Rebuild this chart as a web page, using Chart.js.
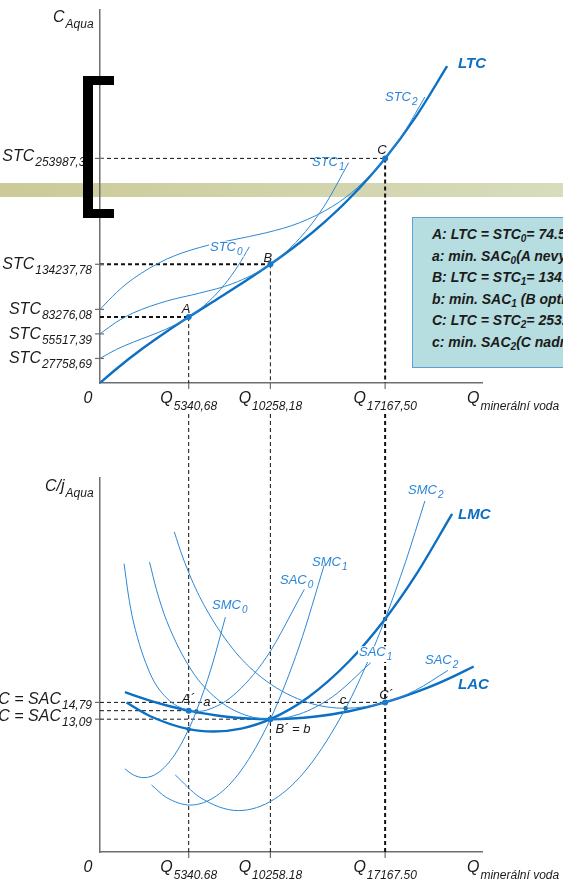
<!DOCTYPE html>
<html lang="cs">
<head>
  <meta charset="UTF-8">
  <title>LTC, STC a LAC, LMC – Aqua</title>
  <script src="https://cdn.jsdelivr.net/npm/chart.js"></script>
  <style>
    html, body { margin: 0; padding: 0; background: #fff; overflow: hidden; }
    .page { position: relative; width: 563px; height: 879px; overflow: hidden; }
    canvas { position: absolute; left: 0; top: 0; }
    .band { position: absolute; left: 0; top: 183px; width: 563px; height: 14px;
            background: linear-gradient(to right, #cbca98, #d7dcbc); }
    .bracket { position: absolute; left: 83px; top: 76px; width: 31px; height: 142px;
               box-sizing: border-box; border: solid #000; border-width: 9px 0 9px 10px; }
    .note { position: absolute; left: 412px; top: 217px; width: 260px; height: 151px;
            box-sizing: border-box; border: 1.5px solid #5d9fd6; background: #b6dde0;
            padding: 6px 0 0 19px; font: italic bold 14px "Liberation Sans", Arial, sans-serif;
            line-height: 21.6px; color: #1b1b1b; white-space: nowrap; }
    .note sub { font-size: 10px; vertical-align: -3px; line-height: 0; }
  </style>
</head>
<body>
<div class="page">
  <div class="band"></div>
  <canvas class="bottom" width="563" height="879"></canvas>
  <canvas class="top" width="563" height="879"></canvas>
  <div class="bracket"></div>
  <div class="note">
    <div>A: LTC = STC<sub>0</sub>= 74.512,48</div>
    <div>a: min. SAC<sub>0</sub>(A nevyužívá kapacitu)</div>
    <div>B: LTC = STC<sub>1</sub>= 134.237,78</div>
    <div>b: min. SAC<sub>1</sub> (B optimální)</div>
    <div>C: LTC = STC<sub>2</sub>= 253.987,30</div>
    <div>c: min. SAC<sub>2</sub>(C nadměrně využívá)</div>
  </div>
</div>

<script>
  // body dotyku (Q)
  const qA = 5340.68, qB = 10258.18, qC = 17167.5;

  // horní graf – celkové náklady
  const stcTicks = [27758.69, 55517.39, 83276.08, 134237.78, 253987.3];
  const stcTickLabels = ['27758,69', '55517,39', '83276,08', '134237,78', '253987,30'];
  const tcPoints = [74512, 134237.78, 253987.3];

  const ltcQ = [0, 1000, 2500, 4000, 5340.68, 7000, 8500, 10258.18, 12000, 13500, 15000, 17167.5, 19000, 20900];
  const ltcVal = [0, 16154, 38102, 57952, 74512, 94262, 112171, 134238, 158335, 181737, 208365, 253987, 300618, 358226];

  const stc0Q = [0, 1000, 2000, 3000, 4000, 5340.68, 6500, 7500, 8300, 8995];
  const stc0Val = [27759, 38080, 46167, 53378, 61070, 74512, 91317, 111392, 132121, 154109];

  const stc1Q = [0, 1000, 2000, 4000, 6000, 8000, 10258.18, 12000, 13500, 14971];
  const stc1Val = [55517, 69029, 79214, 92603, 101691, 112480, 134238, 163186, 199956, 249236];

  const stc2Q = [0, 1000, 2000, 4000, 6000, 8000, 10000, 12000, 14000, 15500, 17167.5, 18400, 19559];
  const stc2Val = [83276, 102451, 117955, 139949, 153260, 161892, 169846, 181126, 199734, 220906, 253987, 286193, 323471];

  // dolní graf – průměrné a mezní náklady
  const acTicks = [14.795, 13.086];
  const acTickLabels = ['14,79', '13,09'];
  const acPoints = [13.952, 13.086, 14.795];

  const lacQ = [1500, 3000, 4200, 5340.68, 7500, 10258.18, 13000, 15000, 17167.5, 19500, 21000, 22500];
  const lacVal = [15.832, 14.972, 14.400, 13.952, 13.358, 13.086, 13.355, 13.891, 14.795, 16.144, 17.217, 18.451];

  const lmcQ = [1600, 3000, 5340.68, 6840, 8500, 10258.18, 12500, 15000, 17167.5, 19000, 21200];
  const lmcVal = [14.778, 13.413, 12.071, 11.830, 12.127, 13.086, 15.272, 18.983, 23.287, 27.714, 33.98];

  const sac0Q = [1450, 1700, 2000, 3000, 4000, 5340.68, 5800, 6500, 8000, 10000, 12300];
  const sac0Val = [28.907, 25.821, 23.083, 17.793, 15.268, 13.952, 13.873, 14.049, 15.476, 19.337, 26.294];

  const smc0Q = [1500, 2000, 2645, 3500, 4500, 5340.68, 5800, 6700, 7550];
  const smc0Val = [8.031, 7.423, 7.140, 7.635, 9.475, 12.071, 13.895, 18.301, 23.470];

  const sac1Q = [2980, 3400, 4000, 5500, 7000, 8500, 10258.18, 12000, 14000, 16300];
  const sac1Val = [29.091, 26.268, 23.151, 18.089, 15.214, 13.663, 13.086, 13.598, 15.366, 18.834];

  const smc1Q = [3100, 4000, 5433, 7000, 8500, 10258.18, 12000, 13500];
  const smc1Val = [6.391, 5.119, 4.348, 5.270, 7.878, 13.086, 20.533, 28.772];

  const sac2Q = [4470, 5000, 6000, 8000, 10000, 12500, 14790, 17167.5, 19000, 20950];
  const sac2Val = [32.150, 29.488, 25.543, 20.237, 16.985, 14.795, 14.198, 14.795, 16.031, 18.051];

  const smc2Q = [4530, 6000, 8340, 10500, 12500, 14790, 16200, 17167.5, 18400, 19560];
  const smc2Val = [7.413, 5.152, 3.785, 4.953, 8.117, 14.197, 19.247, 23.287, 29.11, 35.289];

  // minima SAC a průsečíky s LMC
  const darkQ = [5800, qA, 14790, qC];
  const darkVal = [13.873, 12.071, 14.198, 23.287];

  const THIN = '#2b87d6';
  const THICK = '#0b6fc4';
  const AXIS = '#6e6e6e';
  const FONT = '"Liberation Sans", Arial, sans-serif';

  const xy = (qs, vs) => qs.map((q, i) => ({ x: q, y: vs[i] }));

  function curve(qs, vs, thick) {
    return {
      data: xy(qs, vs),
      borderColor: thick ? THICK : THIN,
      borderWidth: thick ? 2.4 : 1,
      pointRadius: 0,
      cubicInterpolationMode: 'monotone',
      fill: false
    };
  }

  function dots(qs, vs, color, r) {
    return {
      data: xy(qs, vs),
      showLine: false,
      pointRadius: r,
      pointBackgroundColor: color,
      pointBorderWidth: 0
    };
  }

  function axes(xmax, ymin, ymax) {
    const line = () => ({
      type: 'linear',
      grid: { display: true, drawOnChartArea: false, drawTicks: false },
      border: { display: true, color: AXIS, width: 1.5 },
      ticks: { display: false }
    });
    return {
      x: { ...line(), min: 0, max: xmax, afterFit: s => { s.height = 0; } },
      y: { ...line(), min: ymin, max: ymax, afterFit: s => { s.width = 0; } }
    };
  }

  // text s dolním indexem
  function label(ctx, x, y, main, sub, o) {
    const w = o.weight || 'normal';
    const f1 = `italic ${w} ${o.size}px ${FONT}`;
    const f2 = `italic ${w} ${o.subSize}px ${FONT}`;
    ctx.font = f1;
    const w1 = ctx.measureText(main).width;
    ctx.font = f2;
    const w2 = sub ? ctx.measureText(sub).width + 1 : 0;
    let x0 = x;
    if (o.align === 'right') x0 = x - w1 - w2;
    if (o.align === 'center') x0 = x - (w1 + w2) / 2;
    if (o.bg) {
      ctx.fillStyle = '#fff';
      ctx.fillRect(x0 - 1, y - o.size * 0.75, w1 + w2 + 2, o.size * 0.75 + o.dy + 2);
    }
    ctx.fillStyle = o.color;
    ctx.textAlign = 'left';
    ctx.textBaseline = 'alphabetic';
    ctx.font = f1;
    ctx.fillText(main, x0, y);
    if (sub) {
      ctx.font = f2;
      ctx.fillText(sub, x0 + w1 + 1, y + o.dy);
    }
  }

  const axisText = { size: 16, subSize: 12, dy: 6, color: '#1a1a1a' };
  const curveText = { size: 13, subSize: 10, dy: 4, color: '#2a86d8' };
  const boldText = { size: 15, subSize: 10, dy: 4, color: THICK, weight: 'bold' };
  const pointText = { size: 13, subSize: 10, dy: 4, color: '#1a1a1a' };

  function dash(ctx, x1, y1, x2, y2, width) {
    ctx.save();
    ctx.strokeStyle = '#111';
    ctx.lineWidth = width;
    ctx.setLineDash([4, 3]);
    ctx.beginPath();
    ctx.moveTo(x1, y1);
    ctx.lineTo(x2, y2);
    ctx.stroke();
    ctx.restore();
  }

  function tick(ctx, x1, y1, x2, y2) {
    ctx.save();
    ctx.strokeStyle = AXIS;
    ctx.lineWidth = 1.2;
    ctx.beginPath();
    ctx.moveTo(x1, y1);
    ctx.lineTo(x2, y2);
    ctx.stroke();
    ctx.restore();
  }

  function qLabels(ctx, sx, base) {
    label(ctx, sx.left - 12, base, '0', '', { ...axisText, align: 'center' });
    [qA, qB, qC].forEach(q => {
      const txt = q.toFixed(2).replace('.', ',');
      label(ctx, sx.getPixelForValue(q), base, 'Q', txt, { ...axisText, align: 'center', dy: 7 });
    });
    label(ctx, 467, base, 'Q', 'minerální voda', { ...axisText, dy: 7 });
  }

  // horní graf
  const topPlugin = {
    id: 'topNotes',
    beforeDatasetsDraw(chart) {
      const { ctx, scales: { x, y } } = chart;
      const left = x.getPixelForValue(0), base = y.getPixelForValue(0);
      const pts = [[qA, tcPoints[0], 2, 1], [qB, tcPoints[1], 2, 1], [qC, tcPoints[2], 1, 2]];
      pts.forEach(([q, v, hw, vw]) => {
        const px = x.getPixelForValue(q), py = y.getPixelForValue(v);
        dash(ctx, left, py, px, py, hw);
        dash(ctx, px, py, px, base, vw);
      });
    },
    afterDraw(chart) {
      const { ctx, scales: { x, y } } = chart;
      const left = x.left, base = y.bottom;
      stcTicks.forEach((v, i) => {
        const py = y.getPixelForValue(v);
        tick(ctx, left - 5, py, left + 4, py);
        const off = i === stcTicks.length - 1 ? 3 : 5;
        label(ctx, 92, py + off, 'STC', stcTickLabels[i], { ...axisText, align: 'right', dy: 5 });
      });
      [qA, qB, qC].forEach(q => {
        const px = x.getPixelForValue(q);
        tick(ctx, px, base, px, base + 6);
      });
      label(ctx, 53, 22, 'C', 'Aqua', { ...axisText, dy: 6 });
      qLabels(ctx, x, 403);

      label(ctx, 210, 251, 'STC', '0', { ...curveText, bg: true });
      label(ctx, 312, 166, 'STC', '1', curveText);
      label(ctx, 385, 101, 'STC', '2', curveText);
      label(ctx, 458, 68, 'LTC', '', boldText);

      label(ctx, x.getPixelForValue(qA) - 7, y.getPixelForValue(tcPoints[0]) - 4, 'A', '', pointText);
      label(ctx, x.getPixelForValue(qB) - 7, y.getPixelForValue(tcPoints[1]) - 2, 'B', '', pointText);
      label(ctx, x.getPixelForValue(qC) - 8, y.getPixelForValue(tcPoints[2]) - 4, 'C', '', pointText);
    }
  };

  new Chart(document.querySelector('.top').getContext('2d'), {
    type: 'line',
    data: {
      datasets: [
        curve(stc0Q, stc0Val, false),
        curve(stc1Q, stc1Val, false),
        curve(stc2Q, stc2Val, false),
        curve(ltcQ, ltcVal, true),
        dots([qA, qB, qC], tcPoints, '#1a7bd0', 3)
      ]
    },
    options: {
      responsive: false,
      animation: false,
      devicePixelRatio: 1,
      layout: { padding: { left: 100, top: 10, right: 81, bottom: 496 } },
      scales: axes(23000, 0, 421800),
      plugins: { legend: { display: false }, tooltip: { enabled: false } }
    },
    plugins: [topPlugin]
  });

  // dolní graf
  const bottomPlugin = {
    id: 'bottomNotes',
    beforeDatasetsDraw(chart) {
      const { ctx, scales: { x, y } } = chart;
      const left = x.getPixelForValue(0), base = y.bottom;
      [[qA, 1], [qB, 1], [qC, 2]].forEach(([q, w]) => {
        const px = x.getPixelForValue(q);
        dash(ctx, px, 414, px, base, w);
      });
      [[qA, acPoints[0]], [qB, acPoints[1]], [qC, acPoints[2]]].forEach(([q, v]) => {
        const py = y.getPixelForValue(v);
        dash(ctx, left, py, x.getPixelForValue(q), py, 1);
      });
    },
    afterDraw(chart) {
      const { ctx, scales: { x, y } } = chart;
      const left = x.left, base = y.bottom;
      acTicks.forEach((v, i) => {
        const py = y.getPixelForValue(v);
        tick(ctx, left - 5, py, left, py);
        label(ctx, 92, py + 2, 'LAC = SAC', acTickLabels[i], { ...axisText, align: 'right', dy: 5 });
      });
      [qA, qB, qC].forEach(q => {
        const px = x.getPixelForValue(q);
        tick(ctx, px, base, px, base + 6);
      });
      label(ctx, 45, 491, 'C/j', 'Aqua', { ...axisText, dy: 6 });
      qLabels(ctx, x, 872);

      label(ctx, 408, 494, 'SMC', '2', curveText);
      label(ctx, 458, 519, 'LMC', '', boldText);
      label(ctx, 312, 566, 'SMC', '1', curveText);
      label(ctx, 280, 584, 'SAC', '0', curveText);
      label(ctx, 212, 609, 'SMC', '0', curveText);
      label(ctx, 359, 656, 'SAC', '1', { ...curveText, bg: true });
      label(ctx, 425, 664, 'SAC', '2', curveText);
      label(ctx, 458, 689, 'LAC', '', boldText);

      const px = q => x.getPixelForValue(q), py = v => y.getPixelForValue(v);
      label(ctx, px(qA) - 7, py(acPoints[0]) - 8, 'A´', '', pointText);
      label(ctx, px(darkQ[0]) + 7, py(darkVal[0]) - 5, 'a', '', pointText);
      label(ctx, px(qB) + 5, py(acPoints[1]) + 14, 'B´ = b', '', pointText);
      label(ctx, px(darkQ[2]) - 6, py(darkVal[2]) - 4, 'c', '', pointText);
      label(ctx, px(qC) - 6, py(acPoints[2]) - 3, 'C´', '', pointText);
    }
  };

  new Chart(document.querySelector('.bottom').getContext('2d'), {
    type: 'line',
    data: {
      datasets: [
        curve(sac0Q, sac0Val, false),
        curve(smc0Q, smc0Val, false),
        curve(sac1Q, sac1Val, false),
        curve(smc1Q, smc1Val, false),
        curve(sac2Q, sac2Val, false),
        curve(smc2Q, smc2Val, false),
        curve(lacQ, lacVal, true),
        curve(lmcQ, lmcVal, true),
        dots([qA, qB, qC], acPoints, '#1a7bd0', 3),
        dots(darkQ, darkVal, '#1d4e5c', 2.2)
      ]
    },
    options: {
      responsive: false,
      animation: false,
      devicePixelRatio: 1,
      layout: { padding: { left: 100, top: 478, right: 81, bottom: 27 } },
      scales: axes(23000, -0.43, 37.63),
      plugins: { legend: { display: false }, tooltip: { enabled: false } }
    },
    plugins: [bottomPlugin]
  });
</script>
</body>
</html>
